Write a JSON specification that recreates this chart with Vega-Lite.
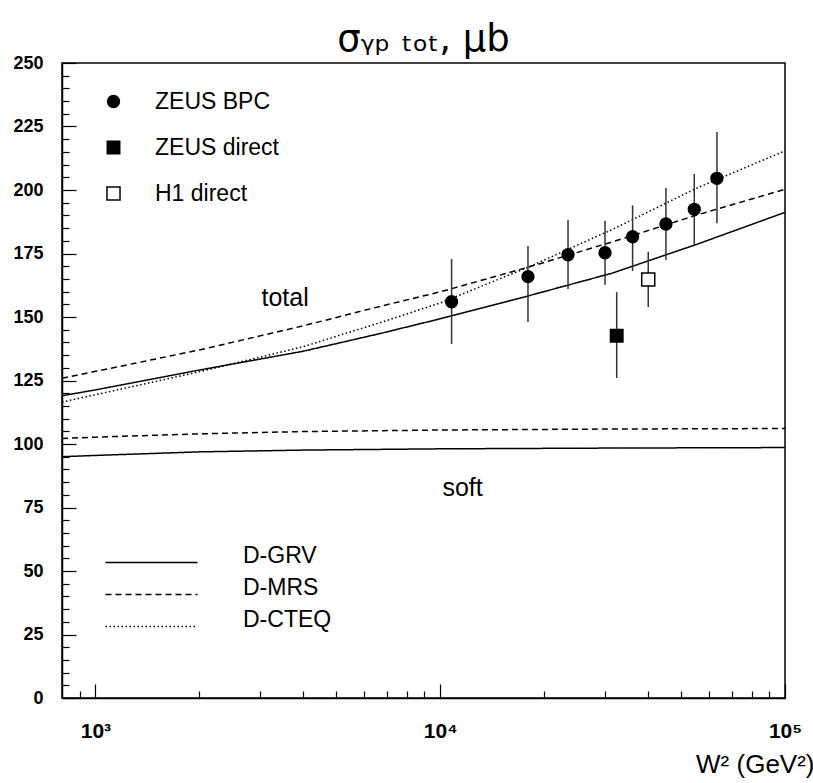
{
  "$schema": "https://vega.github.io/schema/vega-lite/v6.json",
  "width": 723,
  "height": 635,
  "autosize": "none",
  "padding": {"left": 62, "top": 63, "right": 28, "bottom": 85},
  "background": "white",
  "title": {
    "text": "σᵧₚ ₜₒₜ, μb",
    "font": "DejaVu Sans",
    "fontSize": 37,
    "fontWeight": "normal",
    "color": "black",
    "anchor": "middle",
    "offset": 8,
    "dy": 13
  },
  "config": {
    "view": {"stroke": "black", "strokeWidth": 1.5},
    "axis": {"grid": false, "domainColor": "black", "domainWidth": 1.5, "tickColor": "black", "tickWidth": 1.2, "labelColor": "black", "labelFont": "Liberation Sans", "labelFontWeight": "bold", "labelOverlap": false}
  },
  "resolve": {"axis": {"x": "independent", "y": "independent"}},
  "datasets": {
    "points": [
      {"exp": "ZEUS BPC", "W2": 10790, "sigma": 156.0, "lo": 139.4, "hi": 172.8},
      {"exp": "ZEUS BPC", "W2": 17970, "sigma": 165.9, "lo": 148.0, "hi": 178.0},
      {"exp": "ZEUS BPC", "W2": 23480, "sigma": 174.5, "lo": 161.0, "hi": 188.2},
      {"exp": "ZEUS BPC", "W2": 30060, "sigma": 175.3, "lo": 162.7, "hi": 187.9},
      {"exp": "ZEUS BPC", "W2": 36140, "sigma": 181.6, "lo": 168.1, "hi": 194.0},
      {"exp": "ZEUS BPC", "W2": 45150, "sigma": 186.6, "lo": 172.4, "hi": 200.8},
      {"exp": "ZEUS BPC", "W2": 54560, "sigma": 192.4, "lo": 178.3, "hi": 206.3},
      {"exp": "ZEUS BPC", "W2": 63470, "sigma": 204.6, "lo": 186.9, "hi": 222.8},
      {"exp": "ZEUS direct", "W2": 32500, "sigma": 142.6, "lo": 126.0, "hi": 159.8},
      {"exp": "H1 direct", "W2": 40120, "sigma": 164.8, "lo": 153.9, "hi": 175.7}
    ],
    "curves": [
      {"model": "D-GRV", "comp": "total", "W2": 800, "sigma": 119.0},
      {"model": "D-GRV", "comp": "total", "W2": 1000, "sigma": 121.3},
      {"model": "D-GRV", "comp": "total", "W2": 2000, "sigma": 129.1},
      {"model": "D-GRV", "comp": "total", "W2": 4000, "sigma": 136.5},
      {"model": "D-GRV", "comp": "total", "W2": 6700, "sigma": 143.5},
      {"model": "D-GRV", "comp": "total", "W2": 10000, "sigma": 149.3},
      {"model": "D-GRV", "comp": "total", "W2": 18000, "sigma": 158.3},
      {"model": "D-GRV", "comp": "total", "W2": 31600, "sigma": 167.3},
      {"model": "D-GRV", "comp": "total", "W2": 56000, "sigma": 178.8},
      {"model": "D-GRV", "comp": "total", "W2": 100000, "sigma": 191.2},
      {"model": "D-MRS", "comp": "total", "W2": 800, "sigma": 125.9},
      {"model": "D-MRS", "comp": "total", "W2": 1000, "sigma": 128.6},
      {"model": "D-MRS", "comp": "total", "W2": 2000, "sigma": 137.0},
      {"model": "D-MRS", "comp": "total", "W2": 4000, "sigma": 146.5},
      {"model": "D-MRS", "comp": "total", "W2": 6700, "sigma": 154.2},
      {"model": "D-MRS", "comp": "total", "W2": 10000, "sigma": 159.9},
      {"model": "D-MRS", "comp": "total", "W2": 18000, "sigma": 169.6},
      {"model": "D-MRS", "comp": "total", "W2": 31600, "sigma": 179.6},
      {"model": "D-MRS", "comp": "total", "W2": 56000, "sigma": 190.3},
      {"model": "D-MRS", "comp": "total", "W2": 100000, "sigma": 200.3},
      {"model": "D-CTEQ", "comp": "total", "W2": 800, "sigma": 116.5},
      {"model": "D-CTEQ", "comp": "total", "W2": 1000, "sigma": 119.4},
      {"model": "D-CTEQ", "comp": "total", "W2": 2000, "sigma": 128.4},
      {"model": "D-CTEQ", "comp": "total", "W2": 4000, "sigma": 138.3},
      {"model": "D-CTEQ", "comp": "total", "W2": 6700, "sigma": 147.8},
      {"model": "D-CTEQ", "comp": "total", "W2": 10000, "sigma": 155.5},
      {"model": "D-CTEQ", "comp": "total", "W2": 18000, "sigma": 169.6},
      {"model": "D-CTEQ", "comp": "total", "W2": 31600, "sigma": 184.5},
      {"model": "D-CTEQ", "comp": "total", "W2": 56000, "sigma": 201.0},
      {"model": "D-CTEQ", "comp": "total", "W2": 100000, "sigma": 215.4},
      {"model": "D-GRV", "comp": "soft", "W2": 800, "sigma": 95.0},
      {"model": "D-GRV", "comp": "soft", "W2": 1000, "sigma": 95.5},
      {"model": "D-GRV", "comp": "soft", "W2": 2000, "sigma": 96.9},
      {"model": "D-GRV", "comp": "soft", "W2": 4000, "sigma": 97.6},
      {"model": "D-GRV", "comp": "soft", "W2": 10000, "sigma": 98.1},
      {"model": "D-GRV", "comp": "soft", "W2": 31600, "sigma": 98.4},
      {"model": "D-GRV", "comp": "soft", "W2": 100000, "sigma": 98.6},
      {"model": "D-MRS", "comp": "soft", "W2": 800, "sigma": 102.2},
      {"model": "D-MRS", "comp": "soft", "W2": 1000, "sigma": 102.7},
      {"model": "D-MRS", "comp": "soft", "W2": 2000, "sigma": 104.0},
      {"model": "D-MRS", "comp": "soft", "W2": 4000, "sigma": 104.9},
      {"model": "D-MRS", "comp": "soft", "W2": 10000, "sigma": 105.5},
      {"model": "D-MRS", "comp": "soft", "W2": 31600, "sigma": 105.9},
      {"model": "D-MRS", "comp": "soft", "W2": 100000, "sigma": 106.1}
    ],
    "labels": [
      {"W2": 3550, "sigma": 157.5, "text": "total"},
      {"W2": 11610, "sigma": 82.7, "text": "soft"}
    ]
  },
  "layer": [
    {
      "data": {"name": "curves"},
      "mark": {"type": "line", "color": "black", "strokeWidth": 1.5},
      "encoding": {
        "x": {
          "field": "W2", "type": "quantitative",
          "scale": {"type": "log", "domain": [800, 100000], "nice": false},
          "axis": {
            "orient": "bottom",
            "title": "W² (GeV²)",
            "titleFont": "Liberation Sans", "titleFontSize": 26, "titleFontWeight": "normal", "titleColor": "black",
            "titleX": 752, "titleY": 66, "titleAlign": "right", "titleBaseline": "middle", "titleAnchor": null,
            "values": [1000, 10000, 100000],
            "labelExpr": "datum.value == 1000 ? '10³' : datum.value == 10000 ? '10⁴' : '10⁵'",
            "tickSize": -14,
            "labelFontSize": 21, "labelPadding": 36, "labelFlush": false
          }
        },
        "y": {
          "field": "sigma", "type": "quantitative",
          "scale": {"domain": [0, 250], "nice": false, "zero": true},
          "axis": {
            "orient": "left",
            "title": null,
            "values": [0, 25, 50, 75, 100, 125, 150, 175, 200, 225, 250],
            "tickSize": -14,
            "labelFontSize": 18, "labelPadding": 33
          }
        },
        "detail": {"field": "comp"},
        "strokeDash": {
          "field": "model", "type": "nominal",
          "scale": {"domain": ["D-GRV", "D-MRS", "D-CTEQ"], "range": [[1, 0], [6, 4], [1.5, 2.5]]},
          "legend": {
            "title": null, "orient": "none", "legendX": 77, "legendY": 487,
            "symbolType": "M-4,0H4", "symbolSize": 529, "symbolStrokeWidth": 1.5, "symbolStrokeColor": "black", "symbolFillColor": "transparent",
            "labelFont": "Liberation Sans", "labelFontSize": 23, "labelColor": "black", "labelOffset": 79, "rowPadding": 8, "labelBaseline": "alphabetic"
          }
        }
      }
    },
    {
      "data": {"name": "points"},
      "mark": {"type": "rule", "color": "#333", "strokeWidth": 1.5},
      "encoding": {
        "x": {
          "field": "W2", "type": "quantitative",
          "axis": {
            "orient": "bottom", "title": null, "domain": false, "labels": false,
            "values": [900, 2000, 3000, 4000, 5000, 6000, 7000, 8000, 9000, 20000, 30000, 40000, 50000, 60000, 70000, 80000, 90000],
            "tickSize": -7
          }
        },
        "y": {
          "field": "lo", "type": "quantitative",
          "axis": {
            "orient": "left", "title": null, "domain": false, "labels": false,
            "values": [5, 10, 15, 20, 30, 35, 40, 45, 55, 60, 65, 70, 80, 85, 90, 95, 105, 110, 115, 120, 130, 135, 140, 145, 155, 160, 165, 170, 180, 185, 190, 195, 205, 210, 215, 220, 230, 235, 240, 245],
            "tickSize": -7
          }
        },
        "y2": {"field": "hi"}
      }
    },
    {
      "data": {"name": "points"},
      "mark": {"type": "point", "filled": true, "stroke": "black", "strokeWidth": 1.5, "opacity": 1},
      "encoding": {
        "x": {"field": "W2", "type": "quantitative", "axis": null},
        "y": {"field": "sigma", "type": "quantitative", "axis": null},
        "shape": {"field": "exp", "type": "nominal", "scale": {"domain": ["ZEUS BPC", "ZEUS direct", "H1 direct"], "range": ["circle", "square", "square"]},
          "legend": {
            "title": null, "orient": "none", "legendX": 40, "legendY": 27,
            "symbolStrokeColor": "black", "symbolStrokeWidth": 1.5,
            "labelFont": "Liberation Sans", "labelFontSize": 23, "labelColor": "black", "labelOffset": 30, "rowPadding": 22
          }
        },
        "fill": {"field": "exp", "type": "nominal", "scale": {"domain": ["ZEUS BPC", "ZEUS direct", "H1 direct"], "range": ["black", "black", "white"]}},
        "size": {"field": "exp", "type": "nominal", "scale": {"domain": ["ZEUS BPC", "ZEUS direct", "H1 direct"], "range": [140, 170, 180]}}
      }
    },
    {
      "data": {"name": "labels"},
      "mark": {"type": "text", "font": "Liberation Sans", "fontSize": 25, "color": "black", "align": "center", "baseline": "middle"},
      "encoding": {
        "x": {"field": "W2", "type": "quantitative", "axis": null},
        "y": {"field": "sigma", "type": "quantitative", "axis": null},
        "text": {"field": "text"}
      }
    }
  ]
}
